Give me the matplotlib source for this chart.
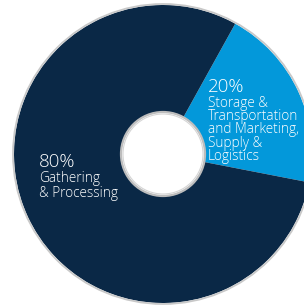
import matplotlib.pyplot as plt
from matplotlib.patches import Circle

# data
shares = [20, 80]
pcts = ["20%", "80%"]
names = ["Storage &\nTransportation\nand Marketing,\nSupply &\nLogistics", "Gathering\n& Processing"]
colors = ["#0398da", "#0a2846"]

W, H = 304, 305
fig = plt.figure(figsize=(W / 100, H / 100), dpi=100)
ax = fig.add_axes([0, 0, 1, 1])

cx, cy = 163, H - 154
R, r = 149, 42

ax.pie(shares, colors=colors, startangle=-11, counterclock=True,
       center=(cx, cy), radius=R, frame=True,
       wedgeprops=dict(width=R - r, linewidth=0))
ax.set_xlim(0, W)
ax.set_ylim(0, H)
ax.set_aspect("equal")
ax.axis("off")

# thin gray rims
ax.add_patch(Circle((cx, cy), R + 1, fill=False, ec="#c8c8c8", lw=1.3))
ax.add_patch(Circle((cx, cy), r, fill=False, ec="#bdbdbd", lw=1.6))
ax.add_patch(Circle((cx, cy), r - 2, fill=False, ec="#d5d5d5", lw=0.8))

fam = "Open Sans"
ax.text(208, H - 78, pcts[0], color="white", fontsize=13.5, family=fam, weight="light",
        va="top", ha="left")
ax.text(208, H - 96, names[0], color="white", fontsize=9.8, family=fam, weight="light",
        va="top", ha="left", linespacing=0.84)
ax.text(39, H - 153, pcts[1], color="white", fontsize=13.5, family=fam, weight="light",
        va="top", ha="left")
ax.text(39, H - 171, names[1], color="white", fontsize=9.8, family=fam, weight="light",
        va="top", ha="left", linespacing=0.98)

fig.savefig("out.png", dpi=100, facecolor="white")
